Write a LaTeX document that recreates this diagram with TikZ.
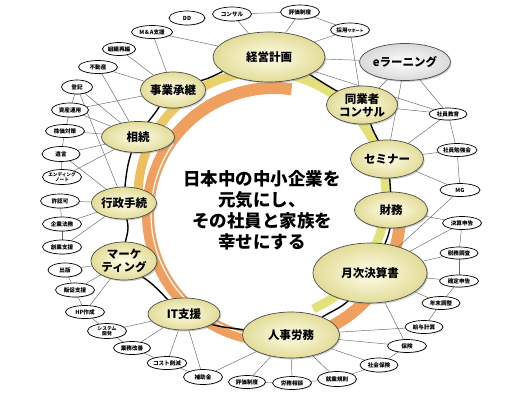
\documentclass[tikz,border=0pt]{standalone}
\usepackage{fontspec}
\setmainfont{Noto Sans CJK JP}
\usetikzlibrary{shapes.geometric,shadows}
\pgfdeclarelayer{back}
\pgfdeclarelayer{lines}
\pgfsetlayers{back,lines,main}
\definecolor{creamin}{HTML}{FFFDE8}
\definecolor{creamout}{HTML}{E2DC98}
\definecolor{orangeband}{HTML}{EF9F5E}
\definecolor{yellowband}{HTML}{E2E27A}
\definecolor{goldband}{HTML}{EFBE5C}
\begin{document}
\begin{tikzpicture}[x=1pt,y=-1pt,
  mainnode/.style={ellipse, draw=black!70, line width=0.7pt, inner color=creamin, outer color=creamout,
    inner sep=0pt, align=center, font=\fontsize{11.5}{13}\selectfont\bfseries,
    drop shadow={shadow xshift=1.2pt, shadow yshift=-1.4pt, opacity=0.4}},
  sat/.style={ellipse, draw=black, line width=0.7pt, fill=white, inner sep=0pt, align=center,
    minimum width=39pt, minimum height=13.5pt, font=\fontsize{5.6}{6}\selectfont\bfseries,
    drop shadow={shadow xshift=0.6pt, shadow yshift=-0.7pt, opacity=0.35}},
  conn/.style={draw=black!60, line width=0.45pt},
]
\useasboundingbox (0,0) rectangle (517,400);

% main nodes
\node[mainnode, minimum width=112pt, minimum height=50pt] (keiei) at (269,57) {経営計画};
\node[mainnode, minimum width=60pt, minimum height=36pt] (jigyo) at (173,90) {事業承継};
\node[mainnode, minimum width=73pt, minimum height=31pt] (sozoku) at (138,137) {相続};
\node[mainnode, minimum width=58pt, minimum height=32pt] (gyosei) at (124,203) {行政手続};
\node[mainnode, minimum width=66pt, minimum height=38pt] (marke) at (124,261) {マーケ\\ティング};
\node[mainnode, minimum width=72pt, minimum height=32pt] (it) at (184,314) {IT支援};
\node[mainnode, minimum width=97pt, minimum height=46pt] (jinji) at (291,335) {人事労務};
\node[mainnode, minimum width=114pt, minimum height=60pt] (getsuji) at (370,273) {月次決算書};
\node[mainnode, minimum width=73pt, minimum height=36pt] (zaimu) at (391,210) {財務};
\node[mainnode, minimum width=73pt, minimum height=38pt] (seminar) at (387,159) {セミナー};
\node[mainnode, minimum width=71pt, minimum height=38pt] (dogyo) at (362,105) {同業者\\コンサル};
\node[mainnode, minimum width=74pt, minimum height=37pt, inner color=white, outer color=black!15] (elearn) at (405,62) {eラーニング};

% center text
\node[align=center, font=\fontsize{17.5}{21}\selectfont\bfseries] (center) at (262,210)
  {日本中の中小企業を\\元気にし、\\その社員と家族を\\幸せにする};

% satellites
\node[sat, minimum width=36pt, minimum height=14pt] (dd) at (187,18) {DD};
\node[sat, minimum height=14pt] (konsaru) at (232,14) {コンサル};
\node[sat, minimum height=14pt] (hyoka1) at (300,12) {評価制度};
\node[sat, minimum height=14pt] (saiyo) at (350,30) {採用{\fontsize{4}{4}\selectfont サポート}};
\node[sat, minimum width=41pt, minimum height=13pt] (ma) at (152,32) {M＆A支援};
\node[sat, minimum width=33pt, minimum height=13pt] (soshiki) at (119,49) {組織再編};
\node[sat, minimum height=13pt] (fudosan) at (98,67) {不動産};
\node[sat, minimum width=31pt, minimum height=14pt] (toki) at (77,87) {登記};
\node[sat, minimum width=37pt, minimum height=14pt] (shisan) at (70,110) {資産運用};
\node[sat, minimum height=13pt] (kabuka) at (65,131) {株価対策};
\node[sat, minimum width=38pt, minimum height=15pt] (igon) at (61,154) {遺言};
\node[sat, minimum height=15pt, font=\fontsize{4.6}{5.2}\selectfont\bfseries] (ending) at (62,177) {エンディング\\ノート};
\node[sat, minimum height=14pt] (kyoninka) at (60,201) {許認可};
\node[sat, minimum height=14pt] (kigyo) at (62,224) {企業法務};
\node[sat, minimum height=14pt] (sogyo) at (62,247) {創業支援};
\node[sat, minimum width=34pt, minimum height=14pt] (shuppan) at (65,270) {出版};
\node[sat, minimum height=14pt] (hansoku) at (75,290) {販促支援};
\node[sat, minimum height=13pt] (hp) at (85,312) {HP作成};
\node[sat, minimum height=15pt, font=\fontsize{4.8}{5.2}\selectfont\bfseries] (system) at (107,331) {システム\\開発};
\node[sat, minimum width=37pt, minimum height=13pt] (gyomu) at (132,348) {業務改善};
\node[sat, minimum height=13pt] (cost) at (167,363) {コスト削減};
\node[sat, minimum height=15pt] (hojo) at (203,377) {補助金};
\node[sat, minimum width=37pt, minimum height=13pt] (hyoka2) at (247,382) {評価制度};
\node[sat, minimum height=13pt] (romu) at (292,383) {労務相談};
\node[sat, minimum height=15pt] (shugyo) at (337,379) {就業規則};
\node[sat, minimum width=38pt, minimum height=14pt] (shakai) at (379,365) {社会保険};
\node[sat, minimum height=13pt] (hoken) at (407,346) {保険};
\node[sat, minimum width=38pt, minimum height=13pt] (kyuyo) at (424,327) {給与計算};
\node[sat, minimum width=38pt, minimum height=13pt] (nenmatsu) at (441,303) {年末調整};
\node[sat, minimum height=12pt] (kakutei) at (459,281) {確定申告};
\node[sat, minimum width=38pt, minimum height=12pt] (zeimu) at (459,253) {税務調査};
\node[sat, minimum height=13pt] (kessan) at (462,223) {決算申告};
\node[sat, minimum width=40pt, minimum height=13pt] (mg) at (460,190) {MG};
\node[sat, minimum width=40pt, minimum height=13pt] (benkyo) at (457,150) {社員勉強会};
\node[sat, minimum width=38pt, minimum height=12pt] (kyoiku) at (448,114) {社員教育};

% way points of the black loop
\coordinate (w1) at (337,91);
\coordinate (w2) at (373,130);
\coordinate (w3) at (390,183);
\coordinate (w4) at (388,236);
\coordinate (w5) at (348,301);
\coordinate (w6) at (324,316);
\coordinate (w7) at (246,330);
\coordinate (w8) at (214,325);
\coordinate (w9) at (152,284);
\coordinate (w10) at (128,228);
\coordinate (w11) at (128,165);
\coordinate (w12) at (155,113);
\coordinate (w13) at (206,79);

% rings and black loop
\begin{pgfonlayer}{back}
  \fill[white] (0,0) rectangle (517,400);
  \foreach \s in {175,185,...,415} {
    \pgfmathsetmacro{\p}{max(0,min(100,(290-\s)*100/100))}
    \draw[goldband!\p!yellowband, line width=9pt] (262,196) ++(\s:124) arc[start angle=\s, end angle=\s+10.6, radius=124];
  }
  \draw[orangeband, line width=12pt] (274,214) ++(0:126) arc[start angle=0, end angle=278, radius=126];
  \draw[white, line width=1.2pt] (274,214) ++(95:123) arc[start angle=95, end angle=215, radius=123];
  \draw[black, line width=1.4pt] plot[smooth cycle, tension=0.55] coordinates
    {(keiei.center) (w1) (dogyo.center) (w2) (seminar.center) (w3) (zaimu.center) (w4) (getsuji.center)
     (w5) (w6) (jinji.center) (w7) (w8) (it.center) (w9) (marke.center) (w10) (gyosei.center) (w11)
     (sozoku.center) (w12) (jigyo.center) (w13)};
\end{pgfonlayer}

% connectors
\begin{pgfonlayer}{lines}
\foreach \a/\b in {ma/keiei, ma/jigyo, konsaru/hyoka1, konsaru/keiei, hyoka1/keiei, hyoka1/saiyo,
  saiyo/keiei, saiyo/dogyo, keiei/elearn, keiei/kyoiku, elearn/dogyo, elearn/seminar, elearn/kyoiku,
  dogyo/kyoiku, kyoiku/benkyo, seminar/kyoiku, seminar/benkyo, seminar/mg, benkyo/mg, mg/getsuji,
  zaimu/kessan, kessan/getsuji, kessan/zeimu, getsuji/zeimu, zeimu/kakutei, getsuji/kakutei,
  kakutei/nenmatsu, getsuji/nenmatsu, nenmatsu/kyuyo, getsuji/hoken, jinji/kyuyo, jinji/hoken,
  jinji/shakai, shakai/hoken, jinji/shugyo, shugyo/shakai, jinji/romu, romu/shugyo, hyoka2/romu,
  jinji/hyoka2, jinji/hojo, it/hojo, it/cost, cost/hojo, it/gyomu, gyomu/cost, it/system,
  system/gyomu, hp/system, hp/marke, hansoku/hp, hansoku/marke, shuppan/marke, shuppan/hansoku,
  sogyo/gyosei, kigyo/gyosei, kigyo/sogyo, kyoninka/kigyo, kyoninka/gyosei, ending/sozoku,
  ending/igon, igon/sozoku, igon/gyosei, kabuka/sozoku, kabuka/igon, shisan/kabuka, shisan/sozoku,
  shisan/jigyo, toki/shisan, toki/sozoku, toki/gyosei, soshiki/jigyo, fudosan/jigyo, fudosan/sozoku}
  {\draw[conn] (\a) -- (\b);}
\end{pgfonlayer}
\end{tikzpicture}
\end{document}
